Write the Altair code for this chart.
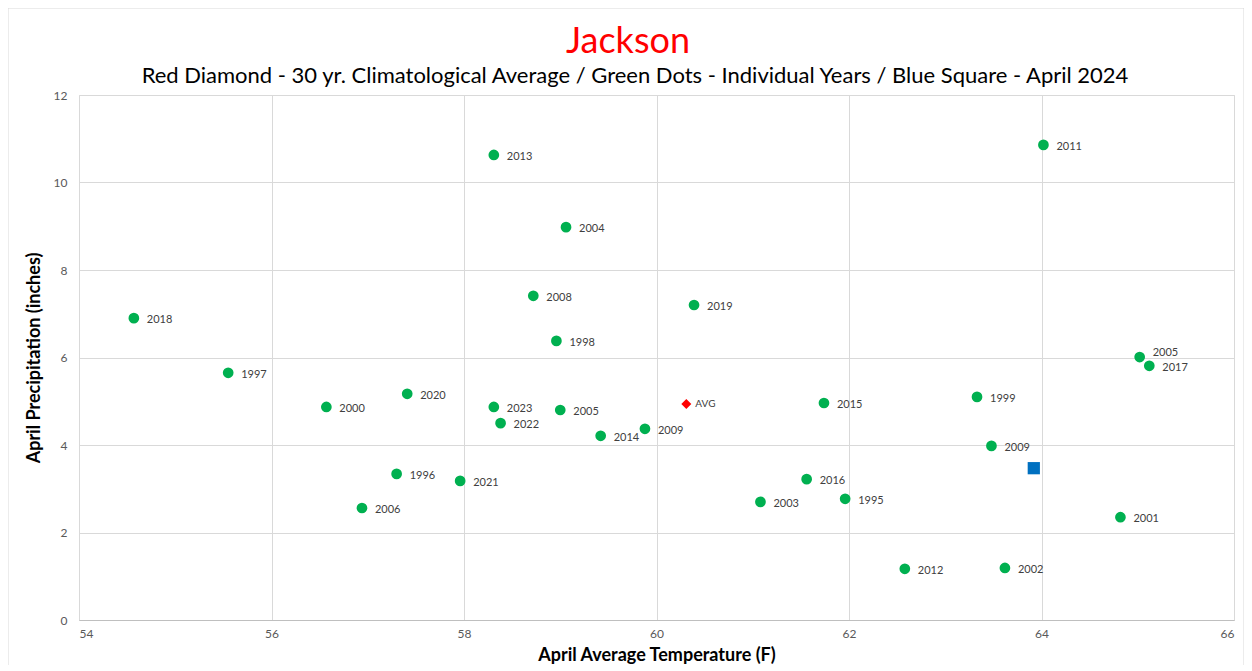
import altair as alt
import pandas as pd

# Individual years (green dots)
years = ["2018", "1997", "2000", "2020", "1996", "2006", "2021", "2013", "2004", "2008",
         "1998", "2023", "2022", "2005", "2014", "2009", "2019", "2015", "2016", "1995",
         "2003", "2012", "2002", "1999", "2009", "2011", "2005", "2017", "2001"]
temps = [54.57, 55.55, 56.57, 57.41, 57.30, 56.94, 57.96, 58.31, 59.06, 58.72,
         58.96, 58.31, 58.38, 59.00, 59.42, 59.88, 60.39, 61.74, 61.56, 61.96,
         61.08, 62.58, 63.62, 63.33, 63.48, 64.02, 65.02, 65.12, 64.82]
precips = [6.90, 5.65, 4.87, 5.17, 3.34, 2.56, 3.18, 10.63, 8.98, 7.41,
           6.38, 4.87, 4.50, 4.80, 4.21, 4.37, 7.20, 4.96, 3.22, 2.77,
           2.70, 1.17, 1.19, 5.10, 3.98, 10.86, 6.01, 5.81, 2.35]

# 30 yr climatological average (red diamond)
avg_label = ["AVG"]
avg_temp = [60.31]
avg_precip = [4.94]

# April 2024 (blue square)
cur_temp = [63.92]
cur_precip = [3.47]

x_ticks = [54, 56, 58, 60, 62, 64, 66]
y_ticks = [0, 2, 4, 6, 8, 10, 12]

title_text = "Jackson"
subtitle_text = ("Red Diamond - 30 yr. Climatological Average / Green Dots - Individual Years"
                 " / Blue Square - April 2024")

df = pd.DataFrame({"year": years, "temp": temps, "precip": precips})
df["upper"] = [(y == "2005" and t > 65) for y, t in zip(years, temps)]
avg_df = pd.DataFrame({"label": avg_label, "temp": avg_temp, "precip": avg_precip})
cur_df = pd.DataFrame({"temp": cur_temp, "precip": cur_precip})
one = pd.DataFrame({"title": [title_text], "subtitle": [subtitle_text]})

FONT = "Lato"

xs = alt.Scale(domain=[54, 66], nice=False, zero=False)
ys = alt.Scale(domain=[0, 12], nice=False)

x_enc = alt.X("temp:Q", scale=xs,
              axis=alt.Axis(values=x_ticks, format="d", title="April Average Temperature  (F)",
                            grid=True, gridColor="#d9d9d9", ticks=False,
                            domain=True, domainColor="#bfbfbf",
                            labelColor="#595959", labelFontSize=12, labelPadding=8,
                            titleFontSize=18, titleFontWeight="bold", titleColor="#000000",
                            titlePadding=7, labelFont=FONT, titleFont=FONT))
y_enc = alt.Y("precip:Q", scale=ys,
              axis=alt.Axis(values=y_ticks, format="d", title="April Precipitation  (inches)",
                            grid=True, gridColor="#d9d9d9", ticks=False, domain=False,
                            labelColor="#595959", labelFontSize=12, labelPadding=12,
                            titleFontSize=18, titleFontWeight="bold", titleColor="#000000",
                            titlePadding=10, labelFont=FONT, titleFont=FONT))

frame = alt.Chart(one).mark_rect(fill=None, stroke="#d9d9d9", strokeWidth=1).encode(
    x=alt.value(-71), x2=alt.value(1165), y=alt.value(-87), y2=alt.value(600))

title = alt.Chart(one).mark_text(align="center", baseline="alphabetic", fontSize=36,
                                 color="#FF0000", font=FONT).encode(
    x=alt.value(549), y=alt.value(-42), text="title:N")
subtitle = alt.Chart(one).mark_text(align="center", baseline="alphabetic", fontSize=22,
                                    color="#000000", font=FONT).encode(
    x=alt.value(556), y=alt.value(-12), text="subtitle:N")

dots = alt.Chart(df).mark_circle(size=115, color="#00B050", opacity=1).encode(x=x_enc, y=y_enc)

labels = alt.Chart(df).transform_filter("!datum.upper").mark_text(
    align="left", baseline="middle", dx=13, dy=2, fontSize=11, color="#404040", font=FONT
).encode(x="temp:Q", y="precip:Q", text="year:N")

labels_up = alt.Chart(df).transform_filter("datum.upper").mark_text(
    align="left", baseline="middle", dx=13, dy=-4, fontSize=11, color="#404040", font=FONT
).encode(x="temp:Q", y="precip:Q", text="year:N")

avg_pt = alt.Chart(avg_df).mark_point(shape="diamond", filled=True, size=100,
                                      color="#FF0000", opacity=1).encode(x="temp:Q", y="precip:Q")
avg_txt = alt.Chart(avg_df).mark_text(align="left", baseline="middle", dx=9, fontSize=10,
                                      color="#404040", font=FONT).encode(
    x="temp:Q", y="precip:Q", text="label:N")

cur_pt = alt.Chart(cur_df).mark_point(shape="square", filled=True, size=150,
                                      color="#0070C0", opacity=1).encode(x="temp:Q", y="precip:Q")

chart = alt.layer(frame, title, subtitle, dots, labels, labels_up, avg_pt, avg_txt, cur_pt).properties(
    width=1155, height=525,
    autosize=alt.AutoSizeParams(type="none"),
    padding={"left": 71, "top": 87, "right": 10, "bottom": 45},
).configure_view(stroke=None).configure(background="white")

chart.save("out.html", embed_options={"renderer": "svg", "actions": False})
